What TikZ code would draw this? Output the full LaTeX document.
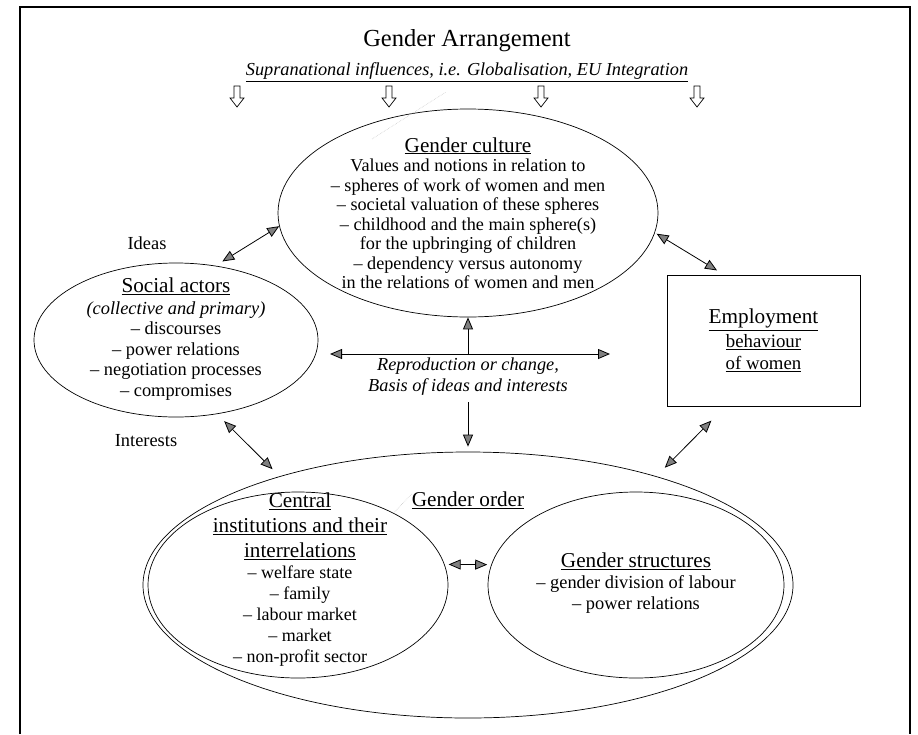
\documentclass[tikz,border=0pt]{standalone}
\usepackage{fontspec}
\setmainfont{Liberation Serif}
\usepackage{tikz}
\usetikzlibrary{shapes.geometric, arrows.meta, calc, positioning}
\tikzset{>={Triangle[length=12pt,width=10pt,fill=black!50]}}
\newcommand{\hdsize}{\fontsize{21.2}{22}\selectfont}

\begin{document}
\begin{tikzpicture}[x=1pt,y=-1pt,
  oval/.style={ellipse,draw,line width=0.7pt,inner sep=0pt},
  txt/.style={align=center,inner sep=0pt,font=\fontsize{18.4}{20.5}\selectfont},
  link/.style={<->,line width=0.8pt},
  leader/.style={gray!40,densely dotted,line width=0.6pt}]
\useasboundingbox (0,0) rectangle (918,734);
\draw [line width=1.3pt] (20,734) -- (20,7) -- (910,7) -- (910,734);

\node (title) at (467,41) {\fontsize{24.5}{26}\selectfont Gender Arrangement};
\node (supra) at (467,72) {\fontsize{18.3}{20}\selectfont\itshape\underline{Supranational influences, i.e. Globalisation, EU Integration}};
\foreach \x in {237,389,541,697}
  \draw [line width=0.7pt] (\x-3,86) -- (\x+3,86) -- (\x+3,98) -- (\x+7,98) -- (\x,107) -- (\x-7,98) -- (\x-3,98) -- cycle;

\node [oval, minimum width=380pt, minimum height=208pt] (culture) at (468,213) {};
\node [txt, font=\fontsize{18.2}{19.5}\selectfont] (culturetxt) at (468,213) {{\hdsize\underline{Gender culture}}\\
  Values and notions in relation to\\ -- spheres of work of women and men\\ -- societal valuation of these spheres\\
  -- childhood and the main sphere(s)\\ for the upbringing of children\\ -- dependency versus autonomy\\
  in the relations of women and men};
\draw [leader] (372,139) -- (446,92);

\node [txt] (ideas) at (147,243) {Ideas};
\node [oval, minimum width=284pt, minimum height=154pt] (actors) at (176,340) {};
\node [txt, font=\fontsize{18.4}{20.5}\selectfont] (actorstxt) at (176,339) {{\hdsize\underline{Social actors}}\\[1pt]
  \textit{(collective and primary)}\\ -- discourses\\ -- power relations\\ -- negotiation processes\\ -- compromises};
\node [txt] (interests) at (146,441) {Interests};

\node [draw, line width=0.8pt, minimum width=193pt, minimum height=131pt, align=center, inner sep=0pt,
  font=\fontsize{18.8}{21}\selectfont] (emp) at (763.5,340.5) {{\hdsize\underline{Employment}}\\[3pt] \underline{behaviour}\\[1pt] \underline{of women}};

\coordinate (repL) at (330,354);
\coordinate (repR) at (610,354);
\coordinate (repM) at (468,354);
\draw [link] (repL) -- (repR);
\draw [->, line width=0.8pt] (repM) -- (culture.south);
\node [txt, font=\fontsize{18.3}{21}\selectfont\itshape] (reptxt) at (468,377) {Reproduction or change,\\ Basis of ideas and interests};

\node [oval, minimum width=650pt, minimum height=266pt] (order) at (468,585) {};
\node [oval, minimum width=300pt, minimum height=186pt] (inst) at (298,585) {};
\node [oval, minimum width=296pt, minimum height=186pt] (struct) at (636,585) {};
\draw [->, line width=0.8pt] ([yshift=-6pt]reptxt.south) -- ([yshift=5pt]order.north);

\node [txt] (ordertxt) at (468,500) {\hdsize\underline{Gender order}};
\draw [leader] (inst.37) -- ([yshift=6pt]ordertxt.west);
\node [txt, font=\fontsize{18}{21}\selectfont] (insttxt) at (300,580) {{\hdsize\underline{Central}}\\[4pt]
  {\hdsize\underline{institutions and their}}\\[4pt] {\hdsize\underline{interrelations}}\\
  -- welfare state\\ -- family\\ -- labour market\\ -- market\\ -- non-profit sector};
\node [txt, font=\fontsize{18.4}{21}\selectfont] (structtxt) at (636,583) {{\hdsize\underline{Gender structures}}\\
  -- gender division of labour\\ -- power relations};

\draw [link, shorten <=4pt, shorten >=4pt] (inst.8) -- (struct.172);
\draw [link, shorten <=8pt] (actors.62) -- (culture.184);
\draw [link, shorten <=2pt, shorten >=8pt] (culture.-6) -- (emp.121);
\draw [link, shorten <=10pt, shorten >=10pt] (actors.-61) -- (order.150);
\draw [link, shorten <=20pt, shorten >=12pt] (emp.240) -- (order.30);
\end{tikzpicture}
\end{document}
